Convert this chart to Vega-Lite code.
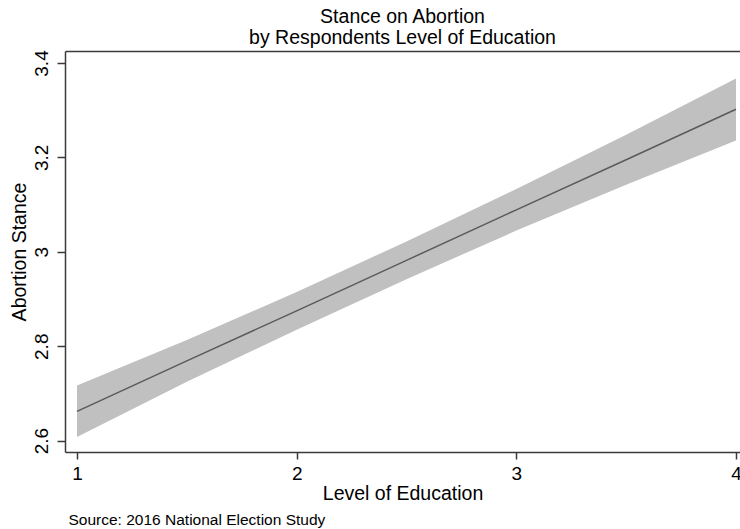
{
  "$schema": "https://vega.github.io/schema/vega-lite/v6.json",
  "autosize": {"type": "none"},
  "width": 675,
  "height": 401,
  "padding": {"left": 65, "top": 51, "right": 0, "bottom": 77},
  "background": "white",
  "config": {
    "font": "Liberation Sans",
    "view": {"stroke": null},
    "axis": {"grid": false}
  },
  "title": {
    "text": ["Stance on Abortion", "by Respondents Level of Education"],
    "anchor": "middle",
    "font": "Liberation Sans",
    "fontSize": 19.5,
    "fontWeight": "normal",
    "color": "#000000",
    "lineHeight": 21,
    "offset": 1
  },
  "data": {
    "values": [
      {"education": 1.0, "stance": 2.662, "lower": 2.608, "upper": 2.717},
      {"education": 1.5, "stance": 2.769, "lower": 2.725, "upper": 2.813},
      {"education": 2.0, "stance": 2.875, "lower": 2.835, "upper": 2.915},
      {"education": 2.5, "stance": 2.982, "lower": 2.942, "upper": 3.022},
      {"education": 3.0, "stance": 3.089, "lower": 3.045, "upper": 3.133},
      {"education": 3.5, "stance": 3.195, "lower": 3.142, "upper": 3.248},
      {"education": 4.0, "stance": 3.302, "lower": 3.236, "upper": 3.367}
    ]
  },
  "resolve": {"axis": {"x": "independent"}},
  "layer": [
    {
      "mark": {"type": "area", "color": "#c0c0c0", "opacity": 1},
      "encoding": {
        "x": {
          "field": "education",
          "type": "quantitative",
          "scale": {"domain": [0.9454, 4.0182], "nice": false, "zero": false},
          "axis": {
            "orient": "bottom",
            "values": [1, 2, 3, 4],
            "format": "d",
            "title": "Level of Education",
            "titleFontSize": 19.5,
            "titleFontWeight": "normal",
            "titleColor": "#000000",
            "titlePadding": 1,
            "labelFontSize": 19,
            "labelColor": "#000000",
            "labelPadding": 5,
            "labelFlush": false,
            "tickSize": 7,
            "tickColor": "#3a3a3a",
            "tickWidth": 1.5,
            "domainColor": "#3a3a3a",
            "domainWidth": 1.5
          }
        },
        "y": {
          "field": "lower",
          "type": "quantitative",
          "scale": {"domain": [2.576, 3.4254], "nice": false, "zero": false},
          "axis": {
            "values": [2.6, 2.8, 3.0, 3.2, 3.4],
            "format": "~g",
            "title": "Abortion Stance",
            "titleFontSize": 19.5,
            "titleFontWeight": "normal",
            "titleColor": "#000000",
            "titlePadding": 3,
            "labelAngle": -90,
            "labelAlign": "center",
            "labelBaseline": "bottom",
            "labelFontSize": 19,
            "labelColor": "#000000",
            "labelPadding": 6,
            "labelFlush": false,
            "tickSize": 8,
            "tickColor": "#3a3a3a",
            "tickWidth": 1.5,
            "domainColor": "#3a3a3a",
            "domainWidth": 1.5
          }
        },
        "y2": {"field": "upper"}
      }
    },
    {
      "mark": {"type": "line", "color": "#5a5a5a", "strokeWidth": 1.5},
      "encoding": {
        "x": {
          "field": "education",
          "type": "quantitative",
          "scale": {"domain": [0.9454, 4.0182], "nice": false, "zero": false},
          "axis": {
            "orient": "top",
            "labels": false,
            "ticks": false,
            "domain": true,
            "domainColor": "#3a3a3a",
            "domainWidth": 1.5,
            "title": "Source: 2016 National Election Study",
            "titleFontSize": 15.5,
            "titleFontWeight": "normal",
            "titleColor": "#000000",
            "titleAnchor": "start",
            "titleAlign": "left",
            "titleBaseline": "alphabetic",
            "titleAngle": 0,
            "titleX": 3,
            "titleY": 473
          }
        },
        "y": {"field": "stance", "type": "quantitative"}
      }
    }
  ]
}
